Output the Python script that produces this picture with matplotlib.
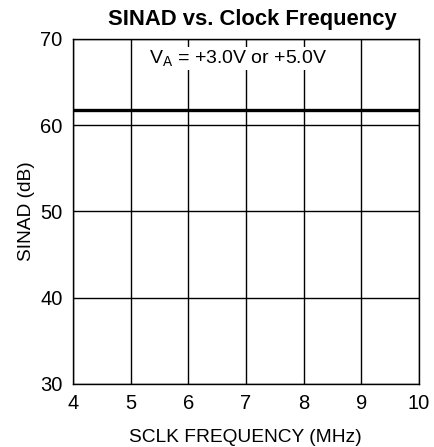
import numpy as np
import matplotlib.pyplot as plt

plt.rcParams['font.family'] = ['Liberation Sans', 'DejaVu Sans']

# data
sclk_mhz = [4, 5, 6, 7, 8, 9, 10]
sinad_db = [61.8, 61.8, 61.8, 61.8, 61.8, 61.8, 61.8]
x_ticks = [4, 5, 6, 7, 8, 9, 10]
y_ticks = [30, 40, 50, 60, 70]

fig = plt.figure(figsize=(4.34, 4.47), dpi=100)
ax = fig.add_axes([0.168, 0.141, 0.797, 0.772])

ax.plot(sclk_mhz, sinad_db, color='black', linewidth=2.4, zorder=3)

ax.set_xlim(4, 10)
ax.set_ylim(30, 70)
ax.set_xticks(x_ticks)
ax.set_yticks(y_ticks)
ax.grid(True, color='black', linewidth=1.0)
ax.tick_params(length=0, labelsize=14.5, pad=7.5)
for s in ax.spines.values():
    s.set_linewidth(1.0)

ax.text(6.86, 67.7, r'V$_\mathregular{A}$ = +3.0V or +5.0V', ha='center', va='center',
        fontsize=14, bbox=dict(facecolor='white', edgecolor='none', pad=1), zorder=4)

ax.set_xlabel('SCLK FREQUENCY (MHz)', fontsize=13.8, labelpad=11)
ax.set_ylabel('SINAD (dB)', fontsize=13.8, labelpad=4)
ax.set_title('SINAD vs. Clock Frequency', fontsize=15.8, fontweight='bold', pad=10, x=0.52)

fig.savefig('out.png', dpi=100)
